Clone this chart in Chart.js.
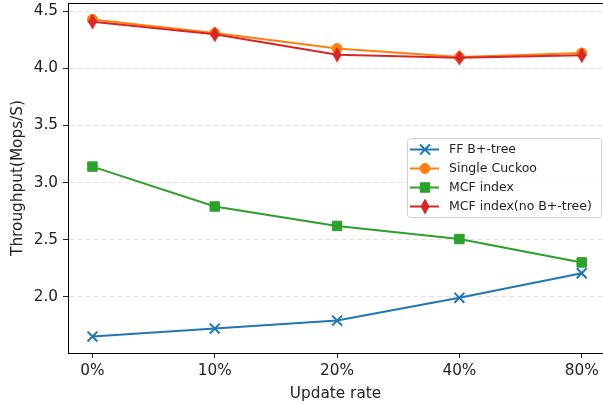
<!DOCTYPE html>
<html>
<head>
<meta charset="utf-8">
<script src="https://cdn.jsdelivr.net/npm/chart.js@4/dist/chart.umd.min.js"></script>
<style>
  html, body { margin: 0; padding: 0; background: #fff; }
</style>
</head>
<body>
<canvas id="chart" width="603" height="405"></canvas>
<script>
// data
const categories = ["0%", "10%", "20%", "40%", "80%"];
const ffBtree = [1.65, 1.72, 1.79, 1.99, 2.205];
const singleCuckoo = [4.43, 4.31, 4.175, 4.10, 4.135];
const mcfIndex = [3.14, 2.79, 2.62, 2.505, 2.30];
const mcfNoBtree = [4.41, 4.30, 4.12, 4.095, 4.115];
const yTicks = [2.0, 2.5, 3.0, 3.5, 4.0, 4.5];

const BLUE = "#1f77b4", ORANGE = "#ff7f0e", GREEN = "#2ca02c", RED = "#d62728";
const FONT = "DejaVu Sans";

// thin diamond marker (matplotlib 'd')
function thinDiamond(color) {
  const c = document.createElement("canvas");
  c.width = 10; c.height = 17;
  const g = c.getContext("2d");
  g.beginPath();
  g.moveTo(5, 0.5); g.lineTo(9.5, 8.5); g.lineTo(5, 16.5); g.lineTo(0.5, 8.5);
  g.closePath();
  g.fillStyle = color; g.fill();
  return c;
}
const diamond = thinDiamond(RED);

function points(arr) {
  return arr.map((v, i) => ({ x: i, y: v }));
}

const series = [
  { label: "FF B+-tree", data: ffBtree, color: BLUE, style: "crossRot", radius: 7, bw: 2 },
  { label: "Single Cuckoo", data: singleCuckoo, color: ORANGE, style: "circle", radius: 5, bw: 1 },
  { label: "MCF index", data: mcfIndex, color: GREEN, style: "rect", radius: 6.7, bw: 1 },
  { label: "MCF index(no B+-tree)", data: mcfNoBtree, color: RED, style: diamond, radius: 6, bw: 1 },
];

// legend drawn like matplotlib's (line + marker), plus the top spine
const mplLegend = {
  id: "mplLegend",
  afterDraw(chart) {
    const ctx = chart.ctx;
    ctx.save();
    ctx.strokeStyle = "#000"; ctx.lineWidth = 1;
    ctx.beginPath();
    ctx.moveTo(chart.chartArea.left, chart.chartArea.top + 0.5);
    ctx.lineTo(chart.chartArea.right, chart.chartArea.top + 0.5);
    ctx.stroke();

    const bx = 407.5, by = 138.5, bw = 194, bh = 79, r = 3;
    ctx.beginPath();
    ctx.roundRect(bx, by, bw, bh, r);
    ctx.fillStyle = "rgba(255,255,255,0.8)";
    ctx.fill();
    ctx.strokeStyle = "#d0d0d0";
    ctx.stroke();

    ctx.font = "12.5px '" + FONT + "'";
    ctx.textBaseline = "middle";
    series.forEach((s, i) => {
      const y = 149.5 + i * 19;
      ctx.strokeStyle = s.color; ctx.lineWidth = 2;
      ctx.beginPath(); ctx.moveTo(410, y); ctx.lineTo(439, y); ctx.stroke();
      ctx.fillStyle = s.color;
      ctx.lineWidth = s.bw;
      Chart.helpers.drawPoint(ctx, { pointStyle: s.style, radius: s.radius, rotation: 0, borderWidth: s.bw }, 425, y);
      ctx.fillStyle = "#222";
      ctx.fillText(s.label, 449, y + 0.5);
    });
    ctx.restore();
  }
};

new Chart(document.getElementById("chart"), {
  type: "line",
  data: {
    datasets: series.map((s, i) => ({
      label: s.label,
      data: points(s.data),
      borderColor: s.color,
      backgroundColor: s.color,
      borderWidth: 2,
      pointStyle: s.style,
      pointRadius: s.radius,
      pointBorderWidth: s.bw,
      pointHoverRadius: s.radius,
      order: 4 - i,
      tension: 0,
    })),
  },
  options: {
    responsive: false,
    animation: false,
    layout: { autoPadding: false, padding: { top: 3, left: 0, right: 0, bottom: 0 } },
    plugins: { legend: { display: false }, tooltip: { enabled: false } },
    scales: {
      x: {
        type: "linear",
        min: -0.2,
        max: 4.174,
        afterBuildTicks: (scale) => { scale.ticks = categories.map((c, i) => ({ value: i })); },
        afterFit: (scale) => { scale.height = 52; scale.paddingLeft = 0; scale.paddingRight = 0; },
        ticks: {
          callback: (v) => categories[v],
          font: { family: FONT, size: 15.3 },
          color: "#222",
          padding: 4,
          maxRotation: 0,
          autoSkip: false,
        },
        grid: { drawOnChartArea: false, drawTicks: true, tickLength: 5, tickColor: "#222", tickWidth: 1 },
        border: { color: "#000", width: 1 },
        title: {
          display: true,
          text: "Update rate",
          font: { family: FONT, size: 15.3 },
          color: "#222",
          padding: { top: 0, bottom: 1.5 },
        },
      },
      y: {
        min: 1.506,
        max: 4.574,
        afterBuildTicks: (scale) => { scale.ticks = yTicks.map(v => ({ value: v })); },
        afterFit: (scale) => { scale.width = 68; scale.paddingTop = 0; scale.paddingBottom = 0; },
        ticks: {
          callback: (v) => v.toFixed(1),
          font: { family: FONT, size: 15.3 },
          color: "#222",
          padding: 5,
        },
        grid: {
          color: "rgba(190,190,190,0.45)",
          lineWidth: 1,
          tickLength: 5,
          tickColor: "#222",
          tickWidth: 1,
        },
        border: { color: "#000", width: 1, dash: [5, 3] },
        title: {
          display: true,
          text: "Throughput(Mops/S)",
          font: { family: FONT, size: 15.3 },
          color: "#222",
          padding: { top: 8.9, bottom: 0 },
        },
      },
    },
  },
  plugins: [mplLegend],
});
</script>
</body>
</html>
